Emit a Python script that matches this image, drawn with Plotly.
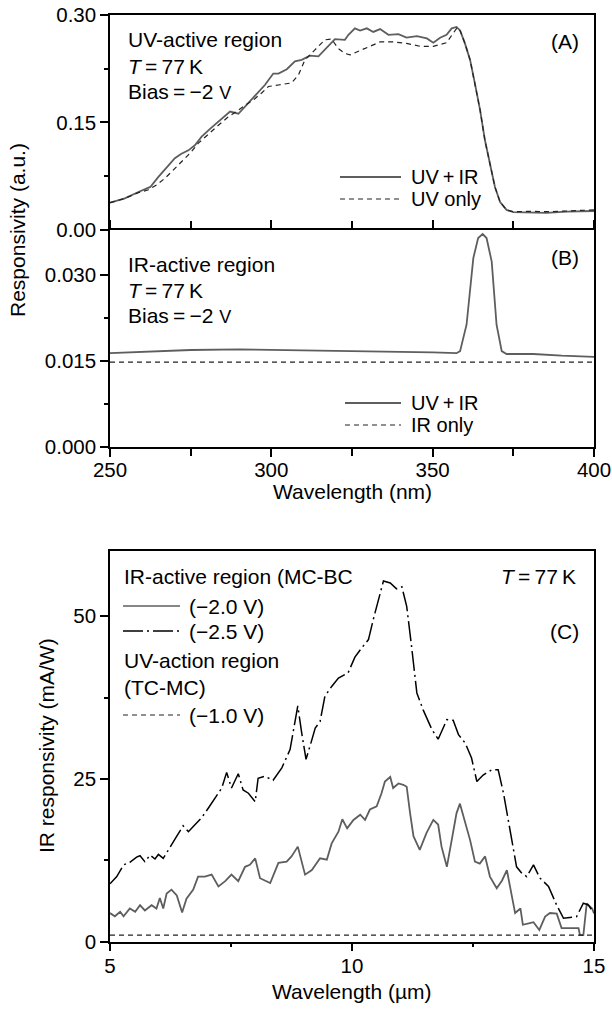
import plotly.graph_objects as go

W, H = 612, 1010
FONT = "Liberation Sans, Arial, sans-serif"

# ---- Panel A: UV-active region ----
a_uvir_wl = [250, 254.6, 258.8, 260.8, 262.5, 265, 267.5, 270.1, 272, 274.3, 276.3, 278.4,
             281, 284.1, 286, 287.2, 289.8, 292, 293.9, 296, 298, 300.6, 302.2, 304.8,
             307.3, 309.4, 312, 314.6, 317.2, 319.7, 322.8, 323.9, 325.9, 327.5, 329.6,
             331.6, 333.7, 336.3, 339.4, 341.9, 345.1, 348.2, 350.2, 352.3, 354.3, 355.9,
             357.4, 358.5, 360.0, 361.6, 363.1, 364.7, 366.2, 367.8, 369.3, 370.9, 372.9,
             375, 379.1, 385.3, 391.5, 400]
a_uvir_resp = [0.038, 0.044, 0.053, 0.057, 0.060, 0.074, 0.087, 0.100, 0.106, 0.111, 0.118,
               0.130, 0.141, 0.153, 0.160, 0.165, 0.162, 0.173, 0.181, 0.192, 0.202, 0.218,
               0.218, 0.224, 0.235, 0.237, 0.243, 0.242, 0.255, 0.266, 0.265, 0.272, 0.281,
               0.278, 0.281, 0.276, 0.280, 0.272, 0.273, 0.268, 0.270, 0.267, 0.261, 0.268,
               0.272, 0.281, 0.283, 0.278, 0.260, 0.237, 0.204, 0.167, 0.125, 0.093, 0.060,
               0.039, 0.028, 0.025, 0.025, 0.024, 0.0255, 0.0265]

a_uv_wl = [250, 254.6, 258.8, 261.9, 264.5, 267, 269.5, 272.2, 275, 277.4, 280.5, 283.6,
           286.5, 289.8, 292.5, 294.9, 297, 299.1, 302.2, 306.3, 308.4, 310.4, 313.5, 316.6,
           318.7, 320.7, 322.8, 324.4, 328.5, 333.7, 337.8, 341.9, 346.1, 350.2, 354.3,
           356.4, 357.6, 358.6, 360.0, 361.6, 363.1, 364.7, 366.2, 367.8, 369.3, 370.9,
           372.9, 375, 380, 386, 393.6, 400]
a_uv_resp = [0.038, 0.044, 0.052, 0.056, 0.063, 0.072, 0.083, 0.095, 0.108, 0.121, 0.134,
             0.146, 0.157, 0.167, 0.175, 0.183, 0.191, 0.200, 0.202, 0.205, 0.216, 0.237,
             0.251, 0.265, 0.266, 0.253, 0.246, 0.244, 0.252, 0.262, 0.262, 0.260, 0.256,
             0.256, 0.261, 0.274, 0.282, 0.277, 0.260, 0.237, 0.204, 0.167, 0.125, 0.093,
             0.060, 0.039, 0.028, 0.0255, 0.026, 0.0255, 0.027, 0.028]

# ---- Panel B: IR-active region ----
b_uvir_wl = [250, 260, 275, 290, 305, 320, 335, 350, 357.4, 358.5, 360.5, 362.6, 364.1,
             365.5, 366.7, 368.3, 369.8, 371.4, 372.9, 381.2, 390, 400]
b_uvir_resp = [0.01634, 0.0166, 0.0169, 0.0170, 0.0169, 0.0168, 0.0167, 0.0165, 0.01634,
               0.0167, 0.0213, 0.0329, 0.0364, 0.0371, 0.0364, 0.0323, 0.0213, 0.0167,
               0.0162, 0.0162, 0.0159, 0.0157]
b_ir_wl = [250, 400]
b_ir_resp = [0.0148, 0.0148]

# ---- Panel C: IR responsivity vs wavelength (um) ----
c25_wl = [5.0, 5.14, 5.28, 5.41, 5.55, 5.62, 5.72, 5.83, 5.93, 6.0, 6.1, 6.24, 6.38, 6.51,
          6.62, 6.72, 6.89, 7.03, 7.2, 7.31, 7.41, 7.51, 7.65, 7.75, 7.86, 8.0, 8.06, 8.2,
          8.37, 8.55, 8.72, 8.88, 8.96, 9.05, 9.17, 9.24, 9.34, 9.44, 9.58, 9.72, 9.92,
          10.06, 10.2, 10.34, 10.44, 10.55, 10.65, 10.79, 10.92, 11.03, 11.13, 11.23, 11.34,
          11.47, 11.65, 11.78, 11.89, 11.96, 12.09, 12.2, 12.34, 12.47, 12.58, 12.71, 12.89,
          13.02, 13.13, 13.26, 13.4, 13.51, 13.61, 13.75, 13.88, 14.06, 14.23, 14.37, 14.54,
          14.64, 14.78, 14.88, 15.0]
c25_resp = [8.9, 10.0, 11.8, 12.2, 13.0, 13.2, 12.3, 13.3, 12.7, 13.4, 12.8, 14.6, 16.2,
            17.8, 16.9, 17.7, 19.0, 20.5, 22.3, 23.6, 26.0, 23.6, 25.8, 23.3, 22.8, 21.5,
            25.1, 25.4, 24.8, 26.7, 29.5, 36.2, 32.1, 28.0, 31.0, 32.8, 33.8, 37.7, 39.2,
            40.5, 41.3, 43.7, 45.1, 46.4, 49.5, 52.6, 55.4, 55.1, 54.2, 54.5, 51.5, 45.4,
            38.2, 35.6, 32.6, 31.1, 32.8, 34.1, 34.0, 31.8, 30.5, 28.2, 24.6, 25.6, 26.4,
            26.4, 22.8, 17.2, 11.5, 10.5, 10.0, 11.8, 9.8, 8.5, 5.6, 3.6, 3.75, 3.85, 5.9,
            5.65, 4.4]

c20_wl = [5.0, 5.1, 5.21, 5.28, 5.41, 5.52, 5.62, 5.72, 5.86, 5.96, 6.03, 6.1, 6.17, 6.27,
          6.38, 6.49, 6.58, 6.72, 6.82, 6.96, 7.1, 7.24, 7.38, 7.51, 7.65, 7.79, 7.89, 8.0,
          8.1, 8.31, 8.48, 8.65, 8.75, 8.88, 9.03, 9.17, 9.34, 9.48, 9.58, 9.72, 9.8, 9.9,
          10.03, 10.17, 10.27, 10.37, 10.51, 10.61, 10.68, 10.79, 10.85, 10.96, 11.06, 11.13,
          11.2, 11.27, 11.4, 11.54, 11.68, 11.78, 11.85, 11.96, 12.06, 12.16, 12.23, 12.33,
          12.44, 12.54, 12.64, 12.75, 12.85, 12.99, 13.1, 13.2, 13.27, 13.37, 13.48, 13.53,
          13.65, 13.75, 13.87, 13.99, 14.09, 14.23, 14.33, 14.57, 14.68, 14.71, 14.78, 14.85,
          14.96, 15.0]
c20_resp = [4.4, 3.9, 4.6, 3.9, 5.1, 4.6, 5.6, 4.8, 5.6, 5.1, 6.7, 5.1, 7.4, 8.0, 7.1, 4.5,
            6.6, 8.0, 10.0, 10.0, 10.3, 8.5, 9.3, 10.3, 9.3, 11.5, 11.8, 12.8, 9.75, 9.0,
            12.1, 12.3, 13.1, 14.6, 10.3, 11.0, 12.8, 12.6, 15.1, 16.9, 18.8, 17.4, 18.7,
            19.5, 18.7, 20.3, 20.8, 22.8, 24.6, 25.3, 23.6, 24.3, 24.1, 23.8, 19.75, 16.2,
            14.1, 16.7, 18.7, 18.0, 14.6, 11.5, 15.6, 19.75, 21.2, 18.7, 15.6, 12.3, 12.0,
            13.1, 10.0, 8.2, 9.4, 11.0, 8.2, 4.4, 5.1, 2.6, 2.8, 3.0, 1.8, 3.85, 4.4, 4.3,
            2.1, 2.1, 2.1, 1.0, 1.0, 5.9, 5.1, 4.4]

c10_wl = [5, 15]
c10_resp = [1.0, 1.0]

uv_ticks = [250, 275, 300, 325, 350, 375, 400]

# ---- geometry helpers (pixel -> paper) ----
def px(x):
    return x / W

def py(y):
    return 1 - y / H

X_DOM = [px(110), px(594)]
A_DOM = [py(230), py(14.7)]
B_DOM = [py(447), py(230)]
C_DOM = [py(941.7), py(551)]

GRAY = "#5e5e5e"
DARK = "#222222"
DASH = "5px,4px"
DASHDOT = "20px,4px,2px,4px"

fig = go.Figure()
fig.add_trace(go.Scatter(x=a_uvir_wl, y=a_uvir_resp, mode="lines", xaxis="x", yaxis="y",
                         line=dict(color=GRAY, width=1.8), showlegend=False))
fig.add_trace(go.Scatter(x=a_uv_wl, y=a_uv_resp, mode="lines", xaxis="x", yaxis="y",
                         line=dict(color=DARK, width=1.2, dash=DASH), showlegend=False))
fig.add_trace(go.Scatter(x=b_uvir_wl, y=b_uvir_resp, mode="lines", xaxis="x2", yaxis="y2",
                         line=dict(color=GRAY, width=1.8), showlegend=False))
fig.add_trace(go.Scatter(x=b_ir_wl, y=b_ir_resp, mode="lines", xaxis="x2", yaxis="y2",
                         line=dict(color=DARK, width=1.2, dash=DASH), showlegend=False))
fig.add_trace(go.Scatter(x=c20_wl, y=c20_resp, mode="lines", xaxis="x3", yaxis="y3",
                         line=dict(color=GRAY, width=1.8), showlegend=False))
fig.add_trace(go.Scatter(x=c25_wl, y=c25_resp, mode="lines", xaxis="x3", yaxis="y3",
                         line=dict(color="black", width=1.5, dash=DASHDOT),
                         showlegend=False))
fig.add_trace(go.Scatter(x=c10_wl, y=c10_resp, mode="lines", xaxis="x3", yaxis="y3",
                         line=dict(color=DARK, width=1.2, dash=DASH), showlegend=False))

TICKFONT = dict(family=FONT, size=20.5, color="black")
base = dict(showline=True, linecolor="black", linewidth=1.5, showgrid=False, zeroline=False,
            ticks="outside", tickcolor="black", tickwidth=1.5, ticklen=8, tickfont=TICKFONT,
            automargin=False)

def minor(vals, length=4):
    return dict(tickvals=vals, ticks="outside", ticklen=length, tickcolor="black",
                tickwidth=1.5)

fig.update_layout(
    width=W, height=H, autosize=False,
    margin=dict(l=0, r=0, t=0, b=0, pad=0, autoexpand=False),
    paper_bgcolor="white", plot_bgcolor="white",
    font=dict(family=FONT, size=20, color="black"),
    # panel A: frame line on top only; the shared edge with B comes from xaxis2
    xaxis=dict(base, domain=X_DOM, anchor="y", range=[250, 400], side="top",
               ticks="", showticklabels=False),
    # downward ticks on the shared A/B edge
    xaxis4=dict(domain=X_DOM, anchor="y", overlaying="x", range=[250, 400], side="bottom",
                showline=False, showgrid=False, zeroline=False, ticks="outside",
                tickvals=uv_ticks, ticklen=7, tickwidth=1.5, tickcolor="black",
                showticklabels=False),
    yaxis=dict(base, domain=A_DOM, anchor="x", range=[0, 0.30],
               tickvals=[0, 0.15, 0.30], tickformat=".2f", mirror=True,
               minor=minor([0.075, 0.225])),
    xaxis2=dict(base, domain=X_DOM, anchor="y2", range=[250, 400],
                tickvals=[250, 300, 350, 400], mirror="ticks", ticklabelstandoff=-4,
                minor=minor([275, 325, 375], 7)),
    yaxis2=dict(base, domain=B_DOM, anchor="x2", range=[0, 0.0378],
                tickvals=[0, 0.015, 0.030], tickformat=".3f", mirror=True,
                minor=minor([0.0075, 0.0225])),
    xaxis3=dict(base, domain=X_DOM, anchor="y3", range=[5, 15], ticklabelstandoff=-3,
                tickvals=[5, 10, 15], mirror=True, minor=minor([7.5, 12.5])),
    yaxis3=dict(base, domain=C_DOM, anchor="x3", range=[0, 60],
                tickvals=[0, 25, 50], mirror=True, minor=minor([12.5, 37.5])),
)

annotations = []

def note(text, x, y, anchor="left", size=21, angle=0):
    annotations.append(dict(text=text, x=px(x), y=py(y), xref="paper", yref="paper",
                            xanchor=anchor, yanchor="middle", showarrow=False,
                            textangle=angle, font=dict(family=FONT, size=size, color="black")))

shapes = []

def sample(x0, x1, y, color, width, dash="solid"):
    shapes.append(dict(type="line", xref="paper", yref="paper", x0=px(x0), x1=px(x1),
                       y0=py(y), y1=py(y), line=dict(color=color, width=width, dash=dash)))

TS = "\u2009"
TEQ = f"<i>T</i>{TS}={TS}77{TS}K"
BIAS = f"Bias{TS}={TS}−2 <span style='font-size:18px'>V</span>"
UVIR = f"UV{TS}+{TS}IR"

# Panel A text
note("UV-active region", 126, 39)
note(TEQ, 126, 66)
note(BIAS, 126, 92)
note("(A)", 581, 41, anchor="right")
sample(340, 401, 177, GRAY, 1.8)
note(UVIR, 409, 177, size=20)
sample(340, 401, 199, DARK, 1.2, DASH)
note("UV only", 409, 199, size=20)

# Panel B text
note("IR-active region", 126, 264)
note(TEQ, 126, 290)
note(BIAS, 126, 315)
note("(B)", 581, 257, anchor="right")
sample(345, 401, 403, GRAY, 1.8)
note(UVIR, 409, 403, size=20)
sample(345, 401, 425, DARK, 1.2, DASH)
note("IR only", 409, 425, size=20)

# Panel C text
note("IR-active region (MC-BC", 122, 576)
sample(123, 180, 606, GRAY, 1.5)
note("(−2.0 V)", 187, 606)
sample(123, 180, 631, "black", 1.5, DASHDOT)
note("(−2.5 V)", 187, 631)
note("UV-action region", 122, 660)
note("(TC-MC)", 122, 687)
sample(123, 180, 715, DARK, 1.2, DASH)
note("(−1.0 V)", 187, 715)
note(TEQ, 578, 576, anchor="right")
note("(C)", 581, 631, anchor="right")

# Axis titles
note("Responsivity (a.u.)", 18, 230, anchor="center", angle=-90)
note("Wavelength (nm)", 352, 491, anchor="center")
note("IR responsivity (mA/W)", 46, 746, anchor="center", angle=-90)
note("Wavelength (µm)", 352, 991, anchor="center")

fig.update_layout(annotations=annotations, shapes=shapes)
fig.write_html("out.html")
